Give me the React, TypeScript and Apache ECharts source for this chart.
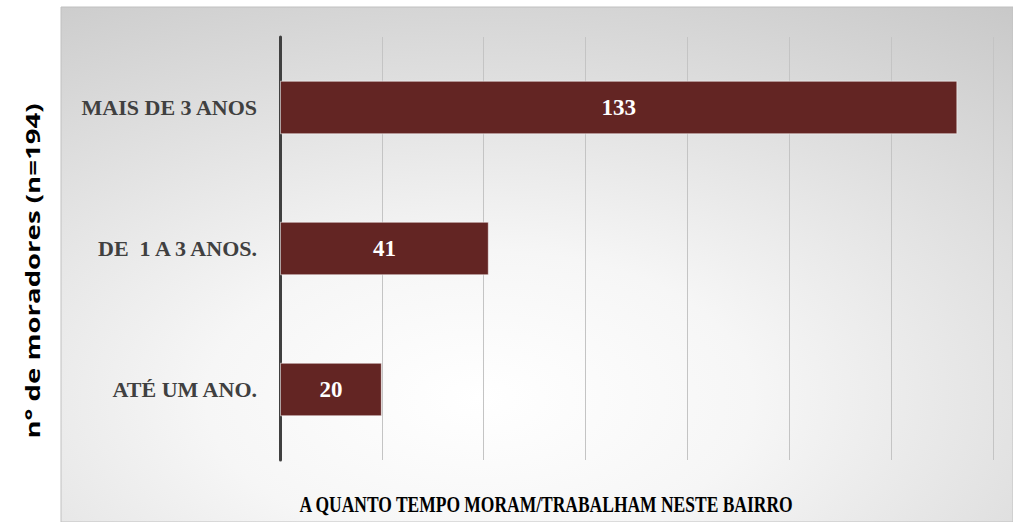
import React, { useEffect, useRef } from "react";
import * as echarts from "echarts";

const categories = ["ATÉ UM ANO.", "DE  1 A 3 ANOS.", "MAIS DE 3 ANOS"];
const values = [20, 41, 133];
const xTitle = "A QUANTO TEMPO MORAM/TRABALHAM NESTE BAIRRO";
const yTitle = "n° de moradores (n=194)";

export default function App() {
  const ref = useRef<HTMLDivElement>(null);
  useEffect(() => {
    document.body.style.margin = "0";
    const chart = echarts.init(ref.current!, null, { renderer: "svg" });
    const serif = "'Liberation Serif', 'DejaVu Serif', serif";
    chart.setOption({
      animation: false,
      graphic: [
        {
          type: "rect",
          z: -100,
          shape: { x: 61, y: 7, width: 952, height: 515 },
          style: {
            fill: new echarts.graphic.RadialGradient(0.44, 0.76, 1.15, [
              { offset: 0, color: "#ffffff" },
              { offset: 0.25, color: "#f6f6f6" },
              { offset: 1, color: "#bababa" },
            ]),
            stroke: "#c0c0c0",
            lineWidth: 1,
          },
        },
        {
          type: "text",
          x: 546,
          y: 503,
          scaleY: 1.35,
          style: {
            text: xTitle,
            fill: "#000000",
            font: `bold 17.5px ${serif}`,
            align: "center",
            verticalAlign: "middle",
          },
        },
        {
          type: "text",
          x: 33,
          y: 271,
          rotation: Math.PI / 2,
          scaleX: 1.45,
          style: {
            text: yTitle,
            fill: "#000000",
            font: "bold 19px 'Open Sans', 'Liberation Sans', sans-serif",
            align: "center",
            verticalAlign: "middle",
          },
        },
      ],
      grid: { left: 280, right: 20, top: 37, bottom: 62 },
      xAxis: {
        type: "value",
        min: 0,
        max: 140,
        interval: 20,
        axisLabel: { show: false },
        axisLine: { show: false },
        axisTick: { show: false },
        splitLine: { show: true, lineStyle: { color: "#c4c4c4", width: 1 } },
      },
      yAxis: {
        type: "category",
        data: categories,
        axisLine: { show: true, lineStyle: { color: "#404040", width: 3 } },
        axisTick: { show: false },
        axisLabel: {
          margin: 23,
          color: "#404040",
          fontFamily: serif,
          fontWeight: "bold",
          fontSize: 22,
        },
      },
      series: [
        {
          type: "bar",
          data: values,
          barCategoryGap: "62%",
          itemStyle: {
            color: "#632523",
            borderColor: "rgba(255,255,255,0.55)",
            borderWidth: 1,
          },
          label: {
            show: true,
            position: "inside",
            color: "#ffffff",
            fontFamily: serif,
            fontWeight: "bold",
            fontSize: 23,
          },
        },
      ],
    });
    return () => chart.dispose();
  }, []);
  return <div ref={ref} style={{ width: 1013, height: 522 }} />;
}
